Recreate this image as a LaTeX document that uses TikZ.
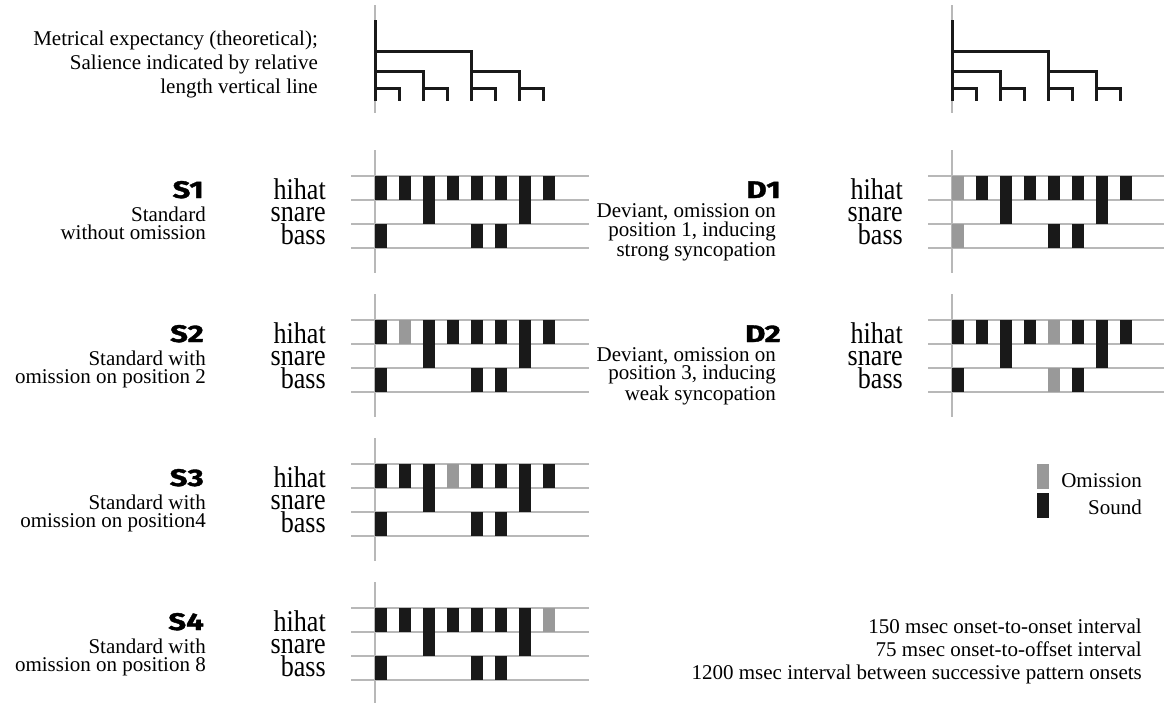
\documentclass[tikz,border=0pt]{standalone}
\usepackage{fontspec}
\setmainfont{Liberation Serif}
\newfontfamily\drumfont{Liberation Serif}[FakeStretch=0.87]
\newfontfamily\headfont{Fira Sans}[FakeStretch=1.3,BoldFeatures={FakeBold=1.5}]
\definecolor{sndcol}{gray}{0.1}
\definecolor{omicol}{gray}{0.6}
\definecolor{linecol}{gray}{0.72}

\begin{document}
\begin{tikzpicture}[x=1pt,y=-1pt,
  staff/.style={linecol,line width=1.5pt},
  axis/.style={linecol,line width=1.5pt},
  tree/.style={sndcol,line width=3pt},
  head/.style={inner sep=0pt,font=\headfont\bfseries\fontsize{24}{24}\selectfont},
  desc/.style={inner sep=0pt,align=right,font=\fontsize{21}{17.5}\selectfont},
  drum/.style={inner sep=0pt,align=right,font=\drumfont\fontsize{30}{22.5}\selectfont},
  note/.style={inner sep=0pt,align=right,font=\fontsize{21}{23}\selectfont}]
\useasboundingbox (0,0) rectangle (1164,702);

% metrical trees
\foreach \tx in {375,952}{
  \draw[axis] (\tx,5) -- (\tx,113);
  \draw[tree] (\tx,20) -- (\tx,101);
  \draw[tree] (\tx,51) -| (\tx+96,101);
  \draw[tree] (\tx,71) -| (\tx+48,101) (\tx+96,71) -| (\tx+144,101);
  \foreach \k in {0,48,96,144} \draw[tree] (\tx+\k,88) -| (\tx+\k+24,101);
}
% base of a multi-line node = baseline of its last line
\node[note,anchor=base east,font=\fontsize{21}{24}\selectfont] (expect) at (318,93)
  {Metrical expectancy (theoretical);\\Salience indicated by relative\ \\length vertical line};

% drum patterns: x, y of top line, omitted position
\foreach \px/\py/\om in {375/176/0, 375/320/2, 375/464/4, 375/608/8, 952/176/1, 952/320/5}{
  \draw[axis] (\px,\py-26) -- (\px,\py+97);
  \foreach \r in {0,24,48,72} \draw[staff] (\px-24,\py+\r) -- (\px+214,\py+\r);
  \foreach \c in {1,...,8}{
    \ifnum\c=\om \def\barcol{omicol}\else\def\barcol{sndcol}\fi
    \ifnum\c=3 \def\bh{48}\else\ifnum\c=7 \def\bh{48}\else\def\bh{24}\fi\fi
    \fill[fill=\barcol] (\px+\c*24-24,\py) rectangle +(11.5,\bh); %hihat (+snare)
  }
  \foreach \c in {1,5,6}{
    \ifnum\c=\om \def\barcol{omicol}\else\def\barcol{sndcol}\fi
    \fill[fill=\barcol] (\px+\c*24-24,\py+48) rectangle +(11.5,24); %bass
  }
  \node[drum,anchor=base east] (drum-\px-\py) at (\px-49,\py+68) {hihat\\snare\\bass};
}

% standards
\node[head,anchor=base east] (s1) at (204,198) {S1};
\node[desc,anchor=base east] (s1txt) at (206,239) {Standard\ \\without omission};
\node[head,anchor=base east] (s2) at (204,342) {S2};
\node[desc,anchor=base east] (s2txt) at (206,383) {Standard with\ \\omission on position 2};
\node[head,anchor=base east] (s3) at (204,486) {S3};
\node[desc,anchor=base east] (s3txt) at (206,527) {Standard with\ \\omission on position4};
\node[head,anchor=base east] (s4) at (204,630) {S4};
\node[desc,anchor=base east] (s4txt) at (206,671) {Standard with\ \\omission on position 8};

% deviants
\node[head,anchor=base east] (d1) at (781,198) {D1};
\node[desc,anchor=base east] (d1txt) at (776,256) {Deviant, omission on\\position 1, inducing\\strong syncopation};
\node[head,anchor=base east] (d2) at (781,342) {D2};
\node[desc,anchor=base east] (d2txt) at (776,400) {Deviant, omission on\\position 3, inducing\\weak syncopation};

% legend
\fill[omicol] (1037,464) rectangle (1049,489);
\fill[sndcol] (1037,493) rectangle (1049,518);
\node[note,anchor=base east] (omis) at (1142,487) {Omission};
\node[note,anchor=base east] (sound) at (1142,514) {Sound};

\node[note,anchor=base east] (timing) at (1142,679)
  {150 msec onset-to-onset interval\\75 msec onset-to-offset interval\\1200 msec interval between successive pattern onsets};

\end{tikzpicture}
\end{document}
